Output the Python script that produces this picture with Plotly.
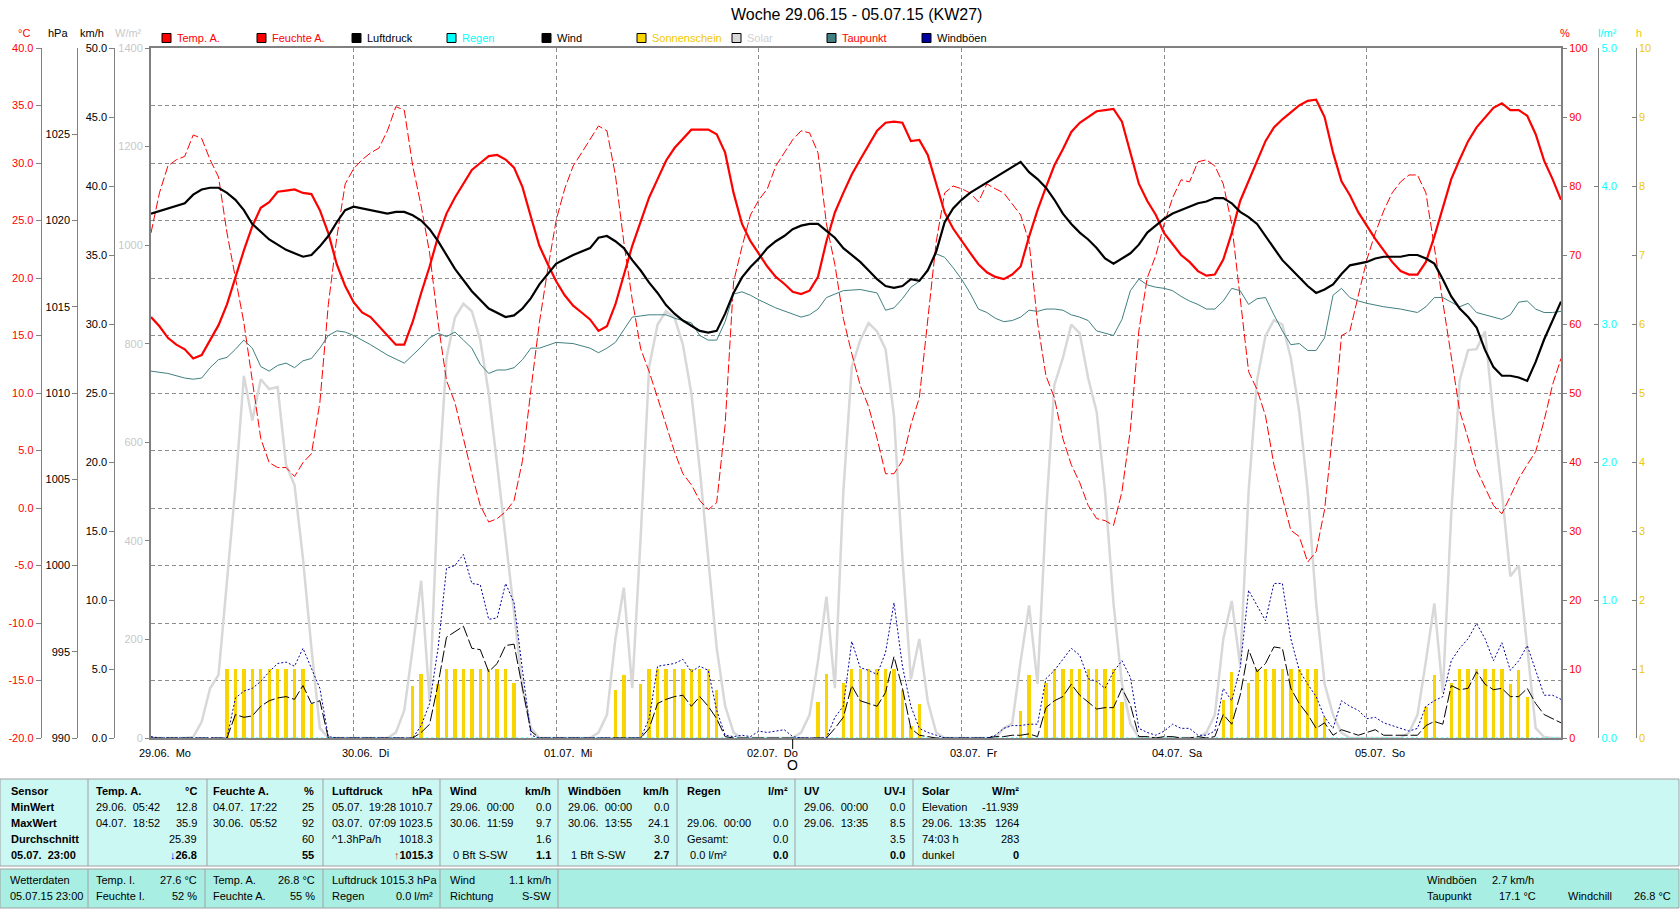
import plotly.graph_objects as go

# ---------------- data ----------------
HOURS = list(range(168))
DAY_TICKS = [0, 24, 48, 72, 96, 120, 144]
DAY_LABELS = ["29.06.  Mo", "30.06.  Di", "01.07.  Mi", "02.07.  Do", "03.07.  Fr", "04.07.  Sa", "05.07.  So"]

TEMP = [16.6, 15.8, 14.8, 14.2, 13.8, 13.0, 13.3, 14.6, 15.9, 17.7,
        20.1, 22.4, 24.5, 26.1, 26.6, 27.5, 27.6, 27.7, 27.4, 27.3,
        25.9, 23.9, 21.2, 19.3, 17.9, 17.0, 16.6, 15.8, 15.0, 14.2,
        14.2, 16.2, 18.7, 21.0, 23.6, 25.6, 27.0, 28.2, 29.4, 30.0,
        30.6, 30.7, 30.3, 29.6, 27.9, 25.3, 22.8, 21.2, 19.7, 18.5,
        17.6, 17.0, 16.4, 15.4, 15.8, 17.7, 20.2, 22.8, 24.9, 27.0,
        28.6, 30.2, 31.3, 32.1, 32.9, 32.9, 32.9, 32.5, 30.9, 27.4,
        24.7, 23.2, 22.1, 21.0, 20.1, 19.5, 18.8, 18.6, 18.9, 20.1,
        23.2, 25.7, 27.4, 29.0, 30.3, 31.6, 32.8, 33.5, 33.6, 33.5,
        31.9, 32.0, 30.7, 28.2, 25.7, 24.3, 23.2, 22.2, 21.2, 20.5,
        20.1, 19.9, 20.3, 21.0, 23.6, 25.9, 27.9, 29.8, 31.2, 32.7,
        33.5, 34.0, 34.5, 34.6, 34.7, 33.6, 30.9, 28.2, 26.7, 25.5,
        23.9, 23.0, 22.0, 21.4, 20.6, 20.2, 20.3, 21.6, 23.9, 26.7,
        28.4, 30.2, 31.9, 33.1, 33.8, 34.4, 35.0, 35.4, 35.5, 34.0,
        30.9, 28.4, 27.2, 25.7, 24.5, 23.4, 22.4, 21.4, 20.6, 20.3,
        20.3, 21.4, 23.6, 26.1, 28.6, 30.3, 31.9, 33.1, 34.0, 34.8,
        35.2, 34.6, 34.6, 34.1, 32.5, 30.2, 28.6, 26.8]

HUM = [73.2, 79.0, 82.9, 83.8, 84.3, 87.4, 86.9, 83.8, 81.3, 73.2,
       66.7, 60.2, 51.8, 43.4, 39.9, 39.2, 39.2, 37.9, 39.9, 41.2,
       48.6, 62.8, 72.5, 80.3, 82.5, 83.8, 84.8, 85.5, 88.0, 91.5,
       91.0, 82.9, 77.1, 70.3, 60.2, 51.8, 48.6, 43.4, 38.3, 33.7,
       31.3, 31.8, 32.8, 34.4, 40.2, 50.5, 60.2, 68.0, 75.1, 79.6,
       82.9, 84.8, 86.7, 88.7, 88.0, 81.6, 71.9, 63.5, 56.4, 53.1,
       49.3, 45.4, 41.5, 38.3, 36.7, 34.4, 33.1, 34.1, 45.4, 66.1,
       71.2, 75.8, 78.0, 79.6, 82.9, 84.8, 86.7, 88.0, 87.7, 84.8,
       74.5, 68.6, 60.8, 55.7, 51.1, 48.0, 43.4, 38.3, 38.3, 40.2,
       45.4, 49.3, 60.2, 71.9, 79.0, 80.0, 79.6, 79.0, 77.7, 80.3,
       79.6, 79.0, 77.4, 75.8, 71.9, 60.2, 52.5, 49.3, 43.4, 39.6,
       37.0, 33.7, 31.8, 31.5, 30.8, 35.7, 44.7, 59.0, 66.7, 69.9,
       74.5, 78.3, 80.9, 80.6, 83.5, 83.8, 82.9, 80.3, 74.5, 64.1,
       53.1, 50.5, 46.7, 39.6, 35.0, 30.1, 29.2, 25.5, 27.0, 33.1,
       44.7, 58.3, 59.0, 64.1, 69.3, 73.2, 76.4, 79.0, 80.6, 81.6,
       81.6, 79.0, 71.2, 62.8, 55.0, 47.4, 43.4, 38.9, 36.3, 33.7,
       32.5, 35.0, 37.6, 39.6, 41.5, 46.0, 51.2, 55.0]

PRESS_HOURS = [0, 2, 4, 5, 6, 7, 8, 9, 10, 11, 12, 14, 16, 18, 19, 20, 21, 22, 23, 24,
               26, 28, 29, 30, 31, 32, 33, 34, 36, 38, 40, 42, 43, 44, 45, 46, 48, 50, 52, 53,
               54, 55] + list(range(56, 168))
PRESS = [1020.4, 1020.7, 1021.0, 1021.5, 1021.8, 1021.9, 1021.9, 1021.6, 1021.2, 1020.6,
         1019.8, 1018.9, 1018.3, 1017.9, 1018.0, 1018.5, 1019.1, 1019.9, 1020.6, 1020.8,
         1020.6, 1020.4, 1020.5, 1020.5, 1020.3, 1020.0, 1019.5, 1018.8, 1017.2, 1015.9,
         1014.9, 1014.4, 1014.5, 1014.9, 1015.5, 1016.3, 1017.5, 1018.0, 1018.4, 1019.0,
         1019.1, 1018.8,
         1018.4, 1017.7, 1017.1, 1016.4, 1015.8, 1015.1, 1014.6, 1014.2, 1013.9, 1013.6,
         1013.5, 1013.6, 1014.6, 1015.8, 1016.7, 1017.3, 1017.8, 1018.4, 1018.8, 1019.1,
         1019.5, 1019.7, 1019.8, 1019.8, 1019.4, 1019.0, 1018.4, 1018.0, 1017.6, 1017.1,
         1016.6, 1016.2, 1016.1, 1016.2, 1016.6, 1016.5, 1017.1, 1018.2, 1019.9, 1020.7,
         1021.2, 1021.6, 1021.9, 1022.2, 1022.5, 1022.8, 1023.1, 1023.4, 1022.8, 1022.4,
         1021.9, 1021.2, 1020.4, 1019.8, 1019.3, 1018.9, 1018.4, 1017.8, 1017.5, 1017.8,
         1018.1, 1018.6, 1019.3, 1019.7, 1020.1, 1020.4, 1020.6, 1020.8, 1021.0, 1021.1,
         1021.3, 1021.3, 1021.0, 1020.5, 1020.2, 1019.8, 1019.1, 1018.4, 1017.7, 1017.2,
         1016.7, 1016.2, 1015.8, 1016.0, 1016.3, 1016.9, 1017.4, 1017.5, 1017.6, 1017.8,
         1017.9, 1017.9, 1017.9, 1018.0, 1018.0, 1017.8, 1017.5, 1016.6, 1015.6, 1014.9,
         1014.4, 1013.8, 1012.5, 1011.5, 1011.0, 1011.0, 1010.9, 1010.7, 1011.8, 1013.1,
         1014.2, 1015.3]

DEW_HOURS = [0, 2, 4, 5, 6, 7, 8, 9, 10, 11, 12, 13, 14, 15, 16, 17, 18, 19, 20, 21,
             22, 23, 24, 26, 28, 30, 31, 32, 33, 34, 35, 36, 37, 38, 39, 40, 41, 42, 43, 44,
             45, 46, 48, 50, 52, 53, 54, 55, 56, 57, 58, 59, 60, 61, 62, 63, 64, 65, 66, 67,
             68, 69, 70, 71, 72, 74, 76, 77, 78, 79, 80, 82, 84, 86, 87, 88, 89, 90, 91, 92,
             93, 94, 95, 96, 97, 98, 99, 100, 101, 102, 103, 104, 105, 106, 107, 108, 109, 110, 111, 112,
             113, 114, 115, 116, 117, 118, 119, 120, 121, 122, 123, 124, 125, 126, 127, 128, 129, 130, 131, 132,
             133, 134, 135, 136, 137, 138, 139, 140, 141, 142, 143, 144, 146, 148, 150, 151, 152, 153, 154, 155,
             156, 157, 158, 159, 160, 161, 162, 163, 164, 165, 166, 167]
DEW = [11.9, 11.7, 11.3, 11.2, 11.3, 12.2, 12.9, 13.1, 13.8, 14.6, 13.9, 12.3, 11.9, 12.4, 12.6, 12.2, 12.8, 13.0, 13.9, 15.0,
       15.4, 15.3, 15.0, 14.2, 13.3, 12.6, 13.3, 14.0, 14.8, 15.2, 14.9, 15.3, 14.6, 13.9, 12.5, 11.7, 12.0, 12.0, 12.2, 12.9,
       13.9, 13.9, 14.4, 14.3, 13.9, 13.5, 13.9, 14.4, 15.5, 16.6, 16.7, 16.8, 16.8, 16.8, 16.5, 16.3, 16.1, 15.0, 14.6, 14.6,
       16.2, 18.6, 18.8, 18.5, 18.1, 17.4, 16.9, 16.6, 16.8, 17.3, 18.3, 18.9, 19.0, 18.7, 17.2, 17.4, 18.2, 19.2, 19.7, 20.8,
       22.1, 21.8, 20.9, 19.9, 18.7, 17.3, 17.0, 16.5, 16.2, 16.3, 16.6, 17.2, 17.1, 17.3, 17.3, 17.2, 16.8, 16.6, 16.3, 15.4,
       15.2, 15.0, 16.4, 18.9, 19.9, 19.4, 19.2, 19.1, 18.9, 18.4, 18.0, 17.7, 17.3, 17.3, 18.0, 19.1, 18.9, 17.7, 18.2, 18.3,
       16.8, 15.4, 14.2, 14.3, 13.7, 13.7, 14.8, 18.5, 19.1, 18.3, 18.0, 17.8, 17.5, 17.3, 17.0, 17.5, 18.3, 18.3, 17.9, 17.5,
       17.8, 17.0, 16.8, 16.6, 16.4, 16.8, 17.9, 18.0, 17.3, 17.0, 17.0, 17.1]

SOLAR = [0, 0, 0, 0, 0, 2, 33, 101, 128, 319,
         509, 735, 644, 728, 708, 712, 554, 513, 364, 183,
         20, 0, 0, 0, 0, 0, 0, 0, 0, 11,
         56, 183, 319, 74, 500, 771, 853, 881, 866, 807,
         699, 554, 409, 255, 101, 20, 0, 0, 0, 0,
         0, 0, 0, 11, 47, 201, 305, 101, 409, 753,
         839, 866, 853, 798, 699, 545, 364, 183, 65, 11,
         0, 0, 0, 0, 0, 0, 0, 11, 47, 156,
         287, 101, 500, 753, 807, 842, 825, 789, 653, 364,
         119, 201, 74, 11, 0, 0, 0, 0, 0, 0,
         0, 20, 29, 156, 269, 110, 454, 717, 771, 839,
         821, 730, 662, 500, 273, 110, 29, 0, 0, 0,
         0, 0, 0, 0, 0, 11, 47, 201, 278, 147,
         500, 726, 816, 848, 839, 771, 662, 500, 273, 110,
         47, 11, 0, 0, 0, 0, 0, 0, 0, 11,
         47, 156, 273, 92, 454, 726, 787, 789, 825, 653,
         500, 328, 350, 183, 20, 2, 0, 0]

WIND = [0, 0, 0, 0, 0, 0, 0, 0, 0, 0,
        1.7, 1.5, 1.6, 2.3, 2.7, 2.9, 3.0, 2.8, 3.8, 2.5,
        2.7, 0, 0, 0, 0, 0, 0, 0, 0, 0,
        0, 0, 0.4, 1.0, 3.9, 7.3, 7.7, 8.1, 6.5, 6.4,
        4.8, 5.4, 6.7, 6.8, 3.6, 0.5, 0, 0, 0, 0,
        0, 0, 0, 0, 0, 0, 0, 0, 0, 0.7,
        2.5, 2.8, 3.0, 3.1, 2.3, 3.0, 2.3, 1.4, 0.1, 0,
        0, 0, 0, 0, 0, 0, 0, 0, 0, 0,
        0, 0.7, 1.5, 3.8, 2.7, 2.5, 2.3, 3.3, 5.9, 3.6,
        0.7, 0.2, 0.1, 0, 0, 0, 0, 0, 0, 0,
        0.1, 0.1, 0.2, 0.2, 0.3, 0.1, 2.2, 2.7, 3.0, 3.9,
        3.1, 2.6, 2.1, 2.2, 2.2, 3.6, 2.4, 0.1, 0.1, 0,
        0.1, 0.1, 0, 0, 0.1, 0, 0.1, 1.7, 1.0, 3.1,
        6.4, 4.8, 5.4, 6.6, 6.5, 3.6, 2.5, 1.7, 0.7, 1.1,
        0.2, 0.6, 0.4, 0.2, 0.4, 0.6, 0.2, 0.2, 0.2, 0.2,
        0.2, 0.9, 1.2, 1.0, 3.8, 3.5, 3.6, 4.8, 3.9, 3.5,
        3.6, 3.0, 3.0, 3.6, 2.5, 1.7, 1.4, 1.1]

GUST = [0.1, 0, 0, 0, 0, 0, 0, 0, 0, 0,
        2.9, 3.4, 3.6, 4.1, 4.8, 5.4, 5.5, 5.2, 6.5, 5.1,
        3.6, 0.1, 0, 0, 0, 0, 0, 0, 0, 0,
        0, 0, 0.9, 2.5, 6.5, 12.3, 12.5, 13.3, 11.2, 11.1,
        8.6, 8.7, 11.2, 9.8, 4.9, 0.2, 0, 0, 0, 0,
        0, 0, 0, 0, 0, 0, 0, 0, 0, 1.4,
        5.2, 5.3, 5.4, 5.7, 4.8, 5.2, 4.9, 2.0, 0.2, 0.1,
        0.2, 0.1, 0.5, 0.4, 0.5, 0.6, 0.1, 0, 0, 0,
        0, 1.5, 2.3, 7.0, 5.1, 4.9, 4.6, 6.2, 9.8, 5.2,
        2.3, 0.7, 0.4, 0.2, 0, 0, 0, 0, 0, 0,
        0.2, 0.7, 0.9, 0.9, 1.0, 1.0, 4.3, 4.9, 5.7, 6.5,
        6.0, 4.3, 4.1, 3.6, 4.8, 5.6, 4.4, 0.7, 0.4, 0.2,
        0.5, 1.0, 0.7, 0.7, 0.2, 0.2, 0.5, 3.6, 2.7, 5.1,
        10.7, 9.6, 8.5, 11.2, 11.2, 7.2, 4.9, 3.9, 3.0, 1.5,
        0.7, 2.7, 2.3, 2.0, 1.4, 1.5, 1.1, 0.9, 0.7, 0.5,
        0.7, 2.3, 2.7, 3.0, 5.6, 6.5, 7.2, 8.3, 7.2, 5.6,
        6.9, 4.9, 5.6, 6.7, 4.9, 3.1, 3.1, 2.8]

SUN_HOURS = [9, 10, 11, 12, 13, 14, 15, 16, 17, 18, 19,
             31, 32, 34, 35, 36, 37, 38, 39, 40, 41, 42, 43,
             55, 56, 58, 59, 60, 61, 62, 63, 64, 65, 66, 67,
             79, 80, 82, 83, 84, 85, 86, 87, 88, 89, 90, 91,
             103, 104, 106, 107, 108, 109, 110, 111, 112, 113, 114, 115,
             127, 128, 130, 131, 132, 133, 134, 135, 136, 137, 138, 139,
             151, 152, 154, 155, 156, 157, 158, 159, 160, 161, 162, 163]
SUN = [1, 1, 1, 1, 1, 1, 1, 1, 1, 1, 0.5,
       0.76, 0.93, 0.78, 1, 1, 1, 1, 1, 1, 1, 1, 0.8,
       0.69, 0.92, 0.78, 1, 1, 1, 1, 1, 1, 1, 1, 0.69,
       0.52, 0.93, 0.79, 1, 1, 1, 1, 1, 1, 0.69, 0.17, 0.5,
       0.39, 0.92, 0.79, 1, 1, 1, 1, 1, 1, 1, 1, 0.52,
       0.55, 0.96, 0.8, 1, 1, 1, 1, 1, 1, 1, 1, 0.3,
       0.45, 0.92, 0.8, 1, 1, 1, 1, 1, 1, 0.78, 0.98, 0.6]

RAIN_HOURS = [0, 167]
RAIN = [0.0, 0.0]

MARKER_HOUR = 76

LEGEND_NAMES = ["Temp. A.", "Feuchte A.", "Luftdruck", "Regen", "Wind",
                "Sonnenschein", "Solar", "Taupunkt", "Windböen"]
LEGEND_BOX = ["#FF0000", "#FF0000", "#000000", "#00FFFF", "#000000",
              "#F8D400", "#D8D8D8", "#408080", "#0000A0"]
LEGEND_TEXT = ["#FF0000", "#FF0000", "#000000", "#00FFFF", "#000000",
               "#F0C800", "#D0D0D0", "#FF0000", "#000000"]

# table texts
T_HEAD = [("Sensor", ""), ("Temp. A.", "°C"), ("Feuchte A.", "%"), ("Luftdruck", "hPa"),
          ("Wind", "km/h"), ("Windböen", "km/h"), ("Regen", "l/m²"), ("UV", "UV-I"), ("Solar", "W/m²")]
T_LEFT = [
    ["MinWert", "MaxWert", "Durchschnitt", "05.07.  23:00"],
    ["29.06.  05:42", "04.07.  18:52", "", ""],
    ["04.07.  17:22", "30.06.  05:52", "", ""],
    ["05.07.  19:28", "03.07.  07:09", "^1.3hPa/h", ""],
    ["29.06.  00:00", "30.06.  11:59", "", " 0 Bft S-SW"],
    ["29.06.  00:00", "30.06.  13:55", "", " 1 Bft S-SW"],
    ["", "29.06.  00:00", "Gesamt:", " 0.0 l/m²"],
    ["29.06.  00:00", "29.06.  13:35", "", ""],
    ["Elevation", "29.06.  13:35", "74:03 h", "dunkel"],
]
T_RIGHT = [
    ["", "", "", ""],
    ["12.8", "35.9", "25.39", "<span style='color:#0000FF'>↓</span>26.8"],
    ["25", "92", "60", "55"],
    ["1010.7", "1023.5", "1018.3", "<span style='color:#C04000'>↑</span>1015.3"],
    ["0.0", "9.7", "1.6", "1.1"],
    ["0.0", "24.1", "3.0", "2.7"],
    ["", "0.0", "0.0", "0.0"],
    ["0.0", "8.5", "3.5", "0.0"],
    ["-11.939", "1264", "283", "0"],
]
B_ROWS = [
    [("Wetterdaten", ""), ("05.07.15 23:00", "")],
    [("Temp. I.", "27.6 °C"), ("Feuchte I.", "52 %")],
    [("Temp. A.", "26.8 °C"), ("Feuchte A.", "55 %")],
    [("Luftdruck 1015.3 hPa", ""), ("Regen", "0.0 l/m²")],
    [("Wind", "1.1 km/h"), ("Richtung", "S-SW")],
]

# ---------------- geometry ----------------
W, H = 1680, 909
PL, PR, PT, PB = 151, 1561, 48, 738
FONT = "Liberation Sans, Arial, sans-serif"
GRID = "#8C8C8C"
FRAME = "#808080"


def fx(p):
    return p / W


def fy(p):
    return 1 - p / H


fig = go.Figure()

fig.add_trace(go.Scatter(x=HOURS, y=SOLAR, mode="lines", yaxis="y",
                         line=dict(color="#D8D8D8", width=2.5), name="Solar"))
fig.add_trace(go.Bar(x=SUN_HOURS, y=SUN, yaxis="y2", width=0.4,
                     marker=dict(color="#F8D400", line=dict(width=0)), name="Sonnenschein"))
fig.add_trace(go.Scatter(x=RAIN_HOURS, y=RAIN, mode="lines", yaxis="y3",
                         line=dict(color="#00FFFF", width=1, dash="2px,3px"), name="Regen"))
fig.add_trace(go.Scatter(x=HOURS, y=HUM, mode="lines", yaxis="y4",
                         line=dict(color="#FF0000", width=1, dash="9px,3px"), name="Feuchte A."))
fig.add_trace(go.Scatter(x=DEW_HOURS, y=DEW, mode="lines", yaxis="y5",
                         line=dict(color="#408080", width=1), name="Taupunkt"))
fig.add_trace(go.Scatter(x=HOURS, y=TEMP, mode="lines", yaxis="y5",
                         line=dict(color="#FF0000", width=2.2), name="Temp. A."))
fig.add_trace(go.Scatter(x=PRESS_HOURS, y=PRESS, mode="lines", yaxis="y6",
                         line=dict(color="#000000", width=2.2), name="Luftdruck"))
fig.add_trace(go.Scatter(x=HOURS, y=WIND, mode="lines", yaxis="y7",
                         line=dict(color="#000000", width=1, dash="12px,3px"), name="Wind"))
fig.add_trace(go.Scatter(x=HOURS, y=GUST, mode="lines", yaxis="y7",
                         line=dict(color="#0000A0", width=1, dash="2px,2px"), name="Windböen"))


def tick_axis(vals, texts, color, pos=None, side="left", ticks="outside", anchor="free", overlay=True,
              line=True, grid=False):
    d = dict(range=[vals[0], vals[-1]], tickvals=vals, ticktext=texts,
             tickfont=dict(family=FONT, size=11, color=color), ticks=ticks, ticklen=5,
             tickcolor=FRAME, tickwidth=1, showline=line, linecolor=FRAME, linewidth=1,
             showgrid=grid, zeroline=False, side=side, anchor=anchor, fixedrange=True,
             automargin=False)
    if pos is not None:
        d["position"] = pos
    if overlay:
        d["overlaying"] = "y"
    return d


# W/m2 (main) axis at frame left
ya = tick_axis(list(range(0, 1401, 200)), [str(v) for v in range(0, 1401, 200)], "#C8C8C8",
               anchor="x", overlay=False, line=True)
ya.update(domain=[fy(PB), fy(PT)], linewidth=2, mirror=True, ticklen=4)

c_vals = list(range(-20, 41, 5))
y5 = tick_axis(c_vals, ["%.1f" % v for v in c_vals], "#FF0000", pos=fx(40.7), grid=True)
y5.update(gridcolor=GRID, gridwidth=1, griddash="4px,3px")
p_vals = list(range(990, 1026, 5))
y6 = tick_axis(p_vals, [str(v) for v in p_vals], "#000000", pos=fx(77.3))
y6["range"] = [990, 1030]
k_vals = list(range(0, 51, 5))
y7 = tick_axis(k_vals, ["%.1f" % v for v in k_vals], "#000000", pos=fx(114.3))
h_vals = list(range(0, 101, 10))
y4 = tick_axis(h_vals, [str(v) for v in h_vals], "#FF0000", side="right", anchor="x", line=False)
r_vals = list(range(0, 6))
y3 = tick_axis(r_vals, ["%.1f" % v for v in r_vals], "#00FFFF", pos=fx(1598.3), side="right",
               ticks="inside")
y3["ticklen"] = 4
s_vals = list(range(0, 11))
y2 = tick_axis(s_vals, [str(v) for v in s_vals], "#F0C800", pos=fx(1635.7), side="right",
               ticks="inside")
y2["ticklen"] = 4

fig.update_layout(
    width=W, height=H, autosize=False,
    margin=dict(l=0, r=0, t=0, b=0, pad=0),
    paper_bgcolor="white", plot_bgcolor="white",
    showlegend=False, bargap=0,
    font=dict(family=FONT, size=11, color="black"),
    xaxis=dict(domain=[fx(PL), fx(PR)], range=[0, 167], anchor="y",
               showline=True, mirror=True, linecolor=FRAME, linewidth=2,
               showgrid=True, gridcolor=GRID, gridwidth=1, griddash="4px,3px",
               tickvals=DAY_TICKS[1:], showticklabels=False, ticks="",
               zeroline=False, fixedrange=True, automargin=False),
    yaxis=ya, yaxis2=y2, yaxis3=y3, yaxis4=y4, yaxis5=y5, yaxis6=y6, yaxis7=y7,
)

ann = []
shapes = []


def txt(x, y, s, color="black", size=11, anchor="left", xref="paper", xshift=0):
    ann.append(dict(x=fx(x) if xref == "paper" else x, y=fy(y), xref=xref, yref="paper",
                    text=s, showarrow=False, xanchor=anchor, yanchor="middle", xshift=xshift,
                    font=dict(family=FONT, size=size, color=color)))


# title
txt(857, 15, "Woche 29.06.15 - 05.07.15 (KW27)", size=16, anchor="center")

# unit labels
txt(24, 33, "°C", "#FF0000", anchor="center")
txt(58, 33, "hPa", anchor="center")
txt(92, 33, "km/h", anchor="center")
txt(128, 33, "W/m²", "#C8C8C8", anchor="center")
txt(1565, 33, "%", "#FF0000", anchor="center")
txt(1607, 33, "l/m²", "#00FFFF", anchor="center")
txt(1639, 33, "h", "#F0C800", anchor="center")

# legend
for i, (nm, bc, tc) in enumerate(zip(LEGEND_NAMES, LEGEND_BOX, LEGEND_TEXT)):
    x0 = 162 + 95 * i
    shapes.append(dict(type="rect", xref="paper", yref="paper", x0=fx(x0), x1=fx(x0 + 9),
                       y0=fy(33.5), y1=fy(42.5), fillcolor=bc, line=dict(color="black", width=1)))
    txt(x0 + 13, 38, nm, tc)

# day labels
for h, lab in zip(DAY_TICKS, DAY_LABELS):
    txt(h, 753, lab, xref="x", xshift=-14)

# marker under the axis
shapes.append(dict(type="line", xref="x", yref="paper", x0=MARKER_HOUR, x1=MARKER_HOUR,
                   y0=fy(739), y1=fy(749), line=dict(color="black", width=1)))
txt(MARKER_HOUR, 765, "O", size=14, anchor="center", xref="x")

# ---- table ----
TOP0, TOP1, BOT0, BOT1 = 779, 866, 869, 908
shapes.append(dict(type="rect", xref="paper", yref="paper", x0=fx(0), x1=fx(1679), y0=fy(TOP0), y1=fy(TOP1),
                   fillcolor="#CCF8F4", line=dict(color="#A0A0A0", width=1), layer="below"))
shapes.append(dict(type="rect", xref="paper", yref="paper", x0=fx(0), x1=fx(1679), y0=fy(BOT0), y1=fy(BOT1),
                   fillcolor="#A8EEE2", line=dict(color="#A0A0A0", width=1), layer="below"))
for xs in [88, 207, 323, 440, 558, 677, 795, 913]:
    shapes.append(dict(type="line", xref="paper", yref="paper", x0=fx(xs), x1=fx(xs), y0=fy(TOP0), y1=fy(TOP1),
                       line=dict(color="#A0A0A0", width=1)))
for xs in [88, 205, 323, 440, 558]:
    shapes.append(dict(type="line", xref="paper", yref="paper", x0=fx(xs), x1=fx(xs), y0=fy(BOT0), y1=fy(BOT1),
                       line=dict(color="#A0A0A0", width=1)))

COL_L = [9, 94, 211, 330, 448, 566, 685, 802, 920]
COL_R = [0, 199, 316, 435, 553, 671, 790, 907, 1021]
ROW_Y = [791, 807, 823, 839, 855]
for c in range(9):
    hl, hr = T_HEAD[c]
    txt(COL_L[c], ROW_Y[0], "<b>%s</b>" % hl)
    if hr:
        txt(COL_R[c], ROW_Y[0], "<b>%s</b>" % hr, anchor="right")
    for r in range(4):
        sl = T_LEFT[c][r]
        sr = T_RIGHT[c][r]
        bold = (c == 0) or (r == 3)
        if sl:
            txt(COL_L[c], ROW_Y[r + 1], ("<b>%s</b>" % sl) if c == 0 else sl)
        if sr:
            txt(COL_R[c], ROW_Y[r + 1], ("<b>%s</b>" % sr) if bold else sr, anchor="right")

B_L = [8, 94, 211, 330, 448]
B_R = [0, 199, 317, 435, 553]
B_Y = [880, 896]
for c, rows in enumerate(B_ROWS):
    for r, (a, b) in enumerate(rows):
        txt(B_L[c], B_Y[r], a)
        if b:
            txt(B_R[c], B_Y[r], b, anchor="right")
txt(1425, 880, "Windböen")
txt(1490, 880, "2.7 km/h")
txt(1425, 896, "Taupunkt")
txt(1497, 896, "17.1 °C")
txt(1566, 896, "Windchill")
txt(1673, 896, "26.8 °C", anchor="right")

fig.update_layout(annotations=ann, shapes=shapes)
fig.write_html("out.html", include_plotlyjs=True, config={"displayModeBar": False})
